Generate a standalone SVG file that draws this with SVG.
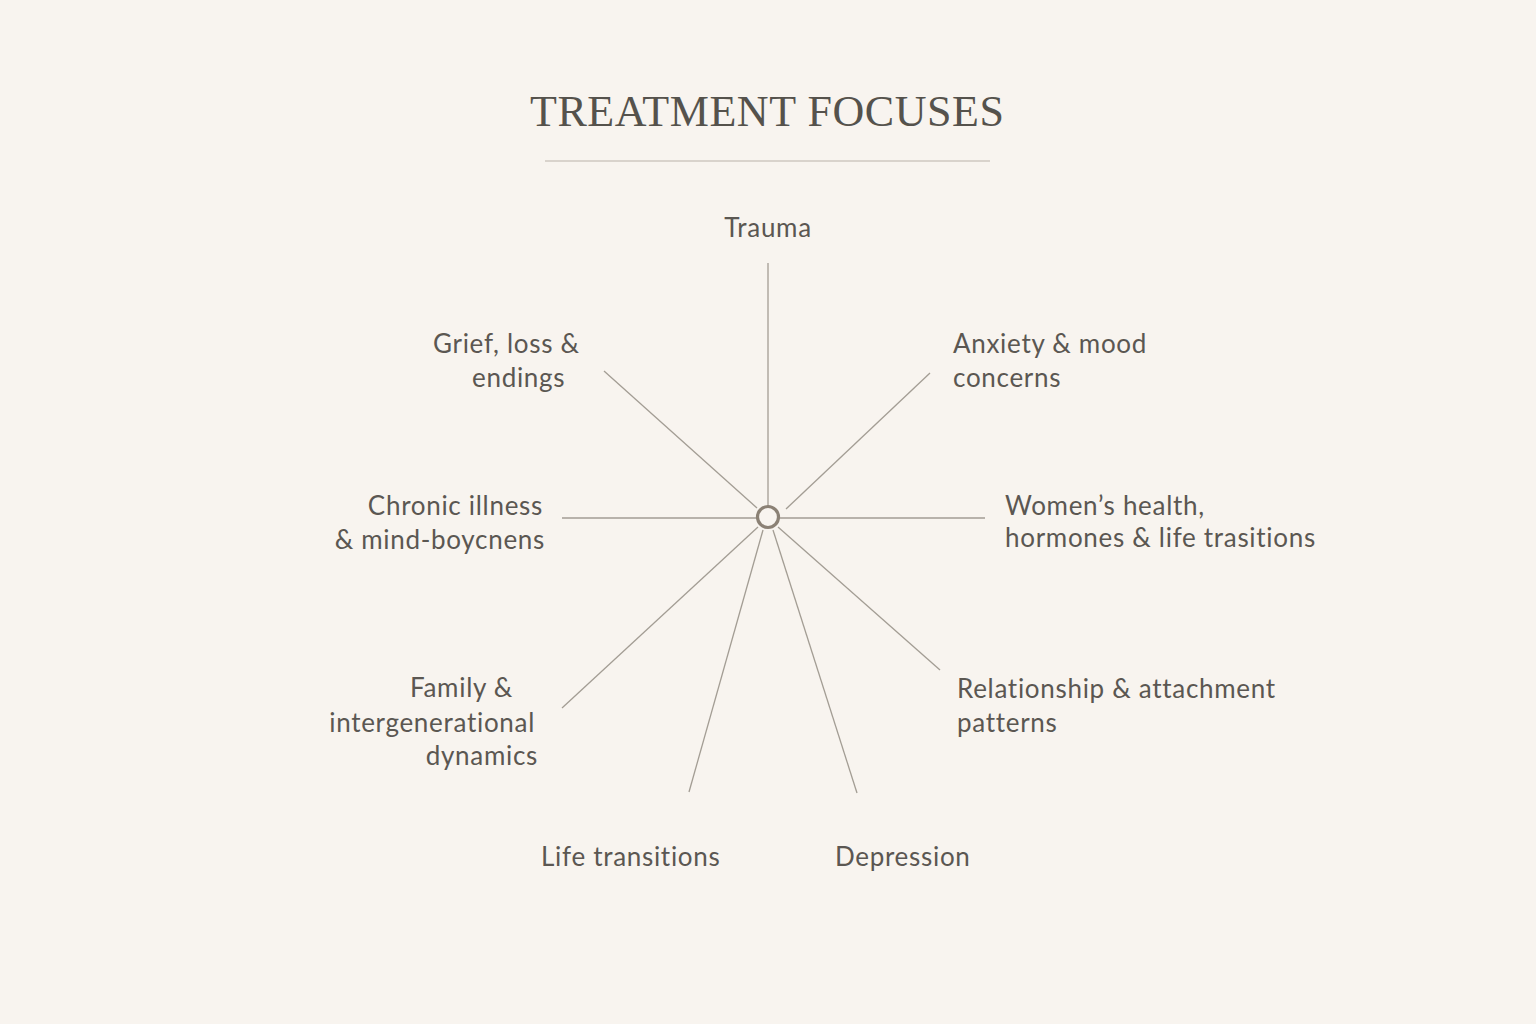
<svg xmlns="http://www.w3.org/2000/svg" width="1536" height="1024" viewBox="0 0 1536 1024">
<style>
.lbl{font-family:Lato,"Open Sans","Liberation Sans",sans-serif;font-size:26px;fill:#5b5752;letter-spacing:0.7px;font-variant-ligatures:none;}
.title{font-family:"Liberation Serif","DejaVu Serif",serif;font-size:44px;fill:#55524c;}
.spoke{stroke:#a39d94;stroke-width:1.3;fill:none;}
</style>
<rect width="1536" height="1024" fill="#f8f4ef"/>
<g id="title">
<text class="title" x="767" y="126" text-anchor="middle" textLength="474" lengthAdjust="spacing">TREATMENT FOCUSES</text>
<line x1="545" y1="161" x2="990" y2="161" stroke="#cfc9c1" stroke-width="1.5"/>
</g>
<g id="connectors">
<line class="spoke" x1="768" y1="506" x2="768" y2="263"/>
<line class="spoke" x1="786" y1="509" x2="930" y2="373"/>
<line class="spoke" x1="757" y1="508" x2="604" y2="371"/>
<line class="spoke" x1="780" y1="518" x2="985" y2="518"/>
<line class="spoke" x1="756" y1="518" x2="562" y2="518"/>
<line class="spoke" x1="778" y1="527" x2="940" y2="670"/>
<line class="spoke" x1="758" y1="527" x2="562" y2="708"/>
<line class="spoke" x1="763" y1="530" x2="689" y2="792"/>
<line class="spoke" x1="773" y1="530" x2="857" y2="793"/>
</g>
<g id="hub"><circle cx="768" cy="517" r="10.5" fill="#f8f4ef" stroke="#8b8175" stroke-width="3.2"/></g>
<g id="n-trauma"><text class="lbl" x="768" y="237" text-anchor="middle">Trauma</text></g>
<g id="n-grief">
<text class="lbl" x="433" y="353">Grief, loss &amp;</text>
<text class="lbl" x="472" y="387">endings</text>
</g>
<g id="n-anxiety">
<text class="lbl" x="953" y="353">Anxiety &amp; mood</text>
<text class="lbl" x="953" y="387">concerns</text>
</g>
<g id="n-chronic">
<text class="lbl" x="543" y="515" text-anchor="end">Chronic illness</text>
<text class="lbl" x="545" y="549" text-anchor="end">&amp; mind-boycnens</text>
</g>
<g id="n-women">
<text class="lbl" x="1005" y="515">Women’s health,</text>
<text class="lbl" x="1005" y="547">hormones &amp; life trasitions</text>
</g>
<g id="n-family">
<text class="lbl" x="513" y="697" text-anchor="end">Family &amp;</text>
<text class="lbl" x="535" y="732" text-anchor="end">intergenerational</text>
<text class="lbl" x="538" y="765" text-anchor="end">dynamics</text>
</g>
<g id="n-relationship">
<text class="lbl" x="957" y="698">Relationship &amp; attachment</text>
<text class="lbl" x="957" y="732">patterns</text>
</g>
<g id="n-life"><text class="lbl" x="541" y="866">Life transitions</text></g>
<g id="n-depression"><text class="lbl" x="835" y="866">Depression</text></g>
</svg>
